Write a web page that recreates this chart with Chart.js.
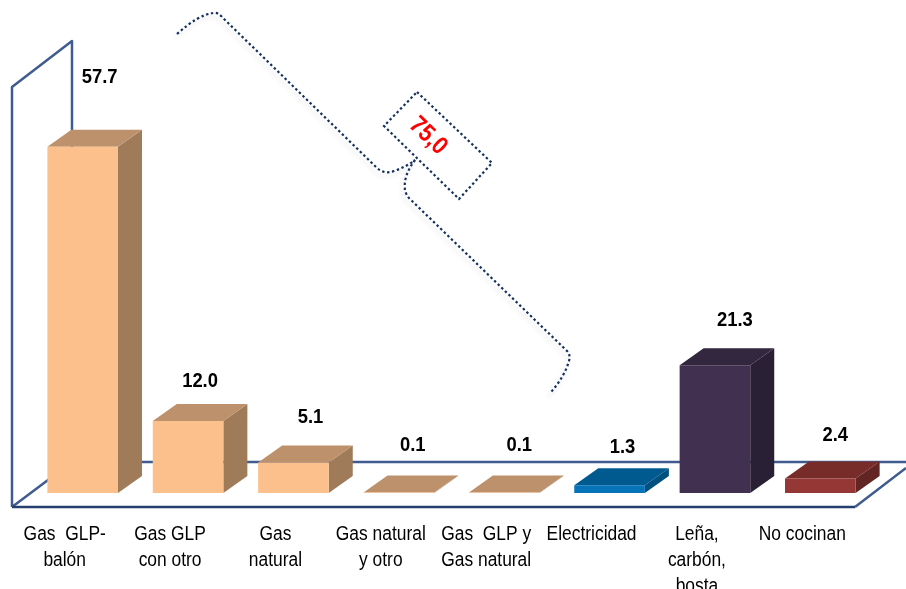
<!DOCTYPE html>
<html lang="es">
<head>
<meta charset="utf-8">
<title>Combustible para cocinar</title>
<script src="https://cdn.jsdelivr.net/npm/chart.js@4"></script>
<style>
	html, body { margin: 0; padding: 0; background: #fff; overflow: hidden; }
	canvas { display: block; filter: blur(0.35px); }
</style>
</head>
<body>
<canvas id="myChart" width="906" height="589"></canvas>
<script>
"use strict";

/* Data */
const categories = [
	["Gas  GLP-", "balón"],
	["Gas GLP", "con otro"],
	["Gas", "natural"],
	["Gas natural", "y otro"],
	["Gas  GLP y", "Gas natural"],
	["Electricidad"],
	["Leña,", "carbón,", "bosta"],
	["No cocinan"]
];
const values = [57.7, 12.0, 5.1, 0.1, 0.1, 1.3, 21.3, 2.4];
const groupTotal = "75,0";

/* Colours per bar */
const frontColors = ["#FBC08C", "#FBC08C", "#FBC08C", "#FBC08C", "#FBC08C", "#0672B8", "#41304F", "#953735"];
const topColors = ["#BC916C", "#BC916C", "#BC916C", "#BC916C", "#BC916C", "#005A90", "#33263F", "#772C2A"];
const sideColors = ["#9F7B5A", "#9F7B5A", "#9F7B5A", "#9F7B5A", "#9F7B5A", "#00507F", "#2A2035", "#632523"];

const depthX = 24;
const depthY = 17;
const fontFamily = '"Liberation Sans", Arial, sans-serif';

function polygon(ctx, points, fill) {
	ctx.beginPath();
	points.forEach(function (p, i) {
		if (i === 0) ctx.moveTo(p[0], p[1]);
		else ctx.lineTo(p[0], p[1]);
	});
	ctx.closePath();
	ctx.fillStyle = fill;
	ctx.fill();
}

// the slide text is a horizontally squeezed Arial
function squeezedText(ctx, text, x, y, squeeze) {
	ctx.save();
	ctx.translate(x, y);
	ctx.scale(squeeze, 1);
	ctx.fillText(text, 0, 0);
	ctx.restore();
}

/* Wall and floor behind the bars, top and side faces of the bars */
const boxPlugin = {
	id: "box3d",
	beforeDatasetsDraw: function (chart) {
		const ctx = chart.ctx;
		ctx.save();
		ctx.lineJoin = "round";
		ctx.lineWidth = 2.5;
		ctx.strokeStyle = "#3F5B90";
		ctx.beginPath();
		ctx.moveTo(12, 507);
		ctx.lineTo(12, 87);
		ctx.lineTo(72, 41);
		ctx.lineTo(72, 462);
		ctx.lineTo(12, 507);
		ctx.moveTo(72, 462);
		ctx.lineTo(906, 462);
		ctx.moveTo(855, 507);
		ctx.lineTo(906, 468);
		ctx.stroke();
		ctx.strokeStyle = "#263F6E";
		ctx.beginPath();
		ctx.moveTo(12, 507);
		ctx.lineTo(855, 507);
		ctx.stroke();

		chart.getDatasetMeta(0).data.forEach(function (bar, i) {
			const half = bar.width / 2;
			const l = bar.x - half;
			const r = bar.x + half;
			const t = bar.y;
			const b = bar.base;
			polygon(ctx, [[r, t], [r + depthX, t - depthY], [r + depthX, b - depthY], [r, b]], sideColors[i]);
			polygon(ctx, [[l, t], [l + depthX, t - depthY], [r + depthX, t - depthY], [r, t]], topColors[i]);
		});
		ctx.restore();
	}
};

/* Values above the bars and category labels under them, nudged by hand like in the original slide */
const labelNudge = [[17, -69], [12, -40], [17, -45], [14, -47], [15, -47], [13, -38], [20, -45], [15, -43]];
const textPlugin = {
	id: "chartText",
	afterDatasetsDraw: function (chart) {
		const ctx = chart.ctx;
		ctx.save();
		ctx.font = "bold 20px " + fontFamily;
		ctx.fillStyle = "#000";
		ctx.textAlign = "center";
		ctx.textBaseline = "middle";
		chart.getDatasetMeta(0).data.forEach(function (bar, i) {
			squeezedText(ctx, values[i].toFixed(1), bar.x + labelNudge[i][0], bar.y + labelNudge[i][1], 0.92);
		});

		ctx.font = "20px " + fontFamily;
		const xScale = chart.scales.x;
		categories.forEach(function (lines, i) {
			const x = xScale.getPixelForValue(i) - 18;
			lines.forEach(function (line, n) {
				squeezedText(ctx, line, x, 534 + n * 26, 0.87);
			});
		});
		ctx.restore();
	}
};

/* Dotted bracket with the 75,0 box */
function bracketPaths(ctx) {
	ctx.beginPath();
	ctx.moveTo(177, 34);
	ctx.quadraticCurveTo(198, 15, 213, 13);
	ctx.quadraticCurveTo(218, 12, 222, 17);
	ctx.lineTo(376, 167);
	ctx.quadraticCurveTo(384, 175, 394, 171);
	ctx.quadraticCurveTo(406, 167, 415, 160);
	ctx.stroke();

	ctx.beginPath();
	ctx.moveTo(415, 160);
	ctx.quadraticCurveTo(403, 176, 405, 190);
	ctx.quadraticCurveTo(406, 195, 410, 199);
	ctx.lineTo(566, 350);
	ctx.quadraticCurveTo(571, 354, 569, 361);
	ctx.quadraticCurveTo(564, 378, 550, 393);
	ctx.stroke();
}

const bracketPlugin = {
	id: "bracket",
	afterDraw: function (chart) {
		const ctx = chart.ctx;
		ctx.save();

		// soft shadow first, crisp dots on top
		ctx.save();
		ctx.lineWidth = 3;
		ctx.strokeStyle = "rgba(0,0,0,0.05)";
		ctx.filter = "blur(2px)";
		ctx.translate(-2, 4);
		bracketPaths(ctx);
		ctx.restore();

		ctx.lineWidth = 2.2;
		ctx.strokeStyle = "#14305F";
		ctx.setLineDash([2.4, 2.6]);
		bracketPaths(ctx);

		ctx.beginPath();
		ctx.moveTo(417, 92);
		ctx.lineTo(492, 163);
		ctx.lineTo(459, 199);
		ctx.lineTo(384, 126);
		ctx.closePath();
		ctx.stroke();

		ctx.setLineDash([]);
		ctx.translate(428, 136);
		ctx.rotate(44 * Math.PI / 180);
		ctx.font = "bold 25px " + fontFamily;
		ctx.fillStyle = "#FF0000";
		ctx.textAlign = "center";
		ctx.textBaseline = "middle";
		squeezedText(ctx, groupTotal, 0, 0, 0.87);
		ctx.restore();
	}
};

const myChart = new Chart(document.getElementById("myChart"), {
	type: "bar",
	data: {
		labels: categories,
		datasets: [{
			data: values,
			backgroundColor: frontColors,
			borderWidth: 0,
			barPercentage: 0.67,
			categoryPercentage: 1
		}]
	},
	plugins: [boxPlugin, textPlugin, bracketPlugin],
	options: {
		responsive: false,
		animation: false,
		layout: { padding: { left: 30, right: 33, top: 73, bottom: 0 } },
		plugins: {
			legend: { display: false },
			title: { display: false },
			tooltip: { enabled: false }
		},
		scales: {
			x: {
				grid: { display: false, drawTicks: false },
				border: { display: false },
				afterFit: function (scale) { scale.height = 96; },
				ticks: { display: false }
			},
			y: {
				display: false,
				min: 0,
				max: 70
			}
		}
	}
});
</script>
</body>
</html>
